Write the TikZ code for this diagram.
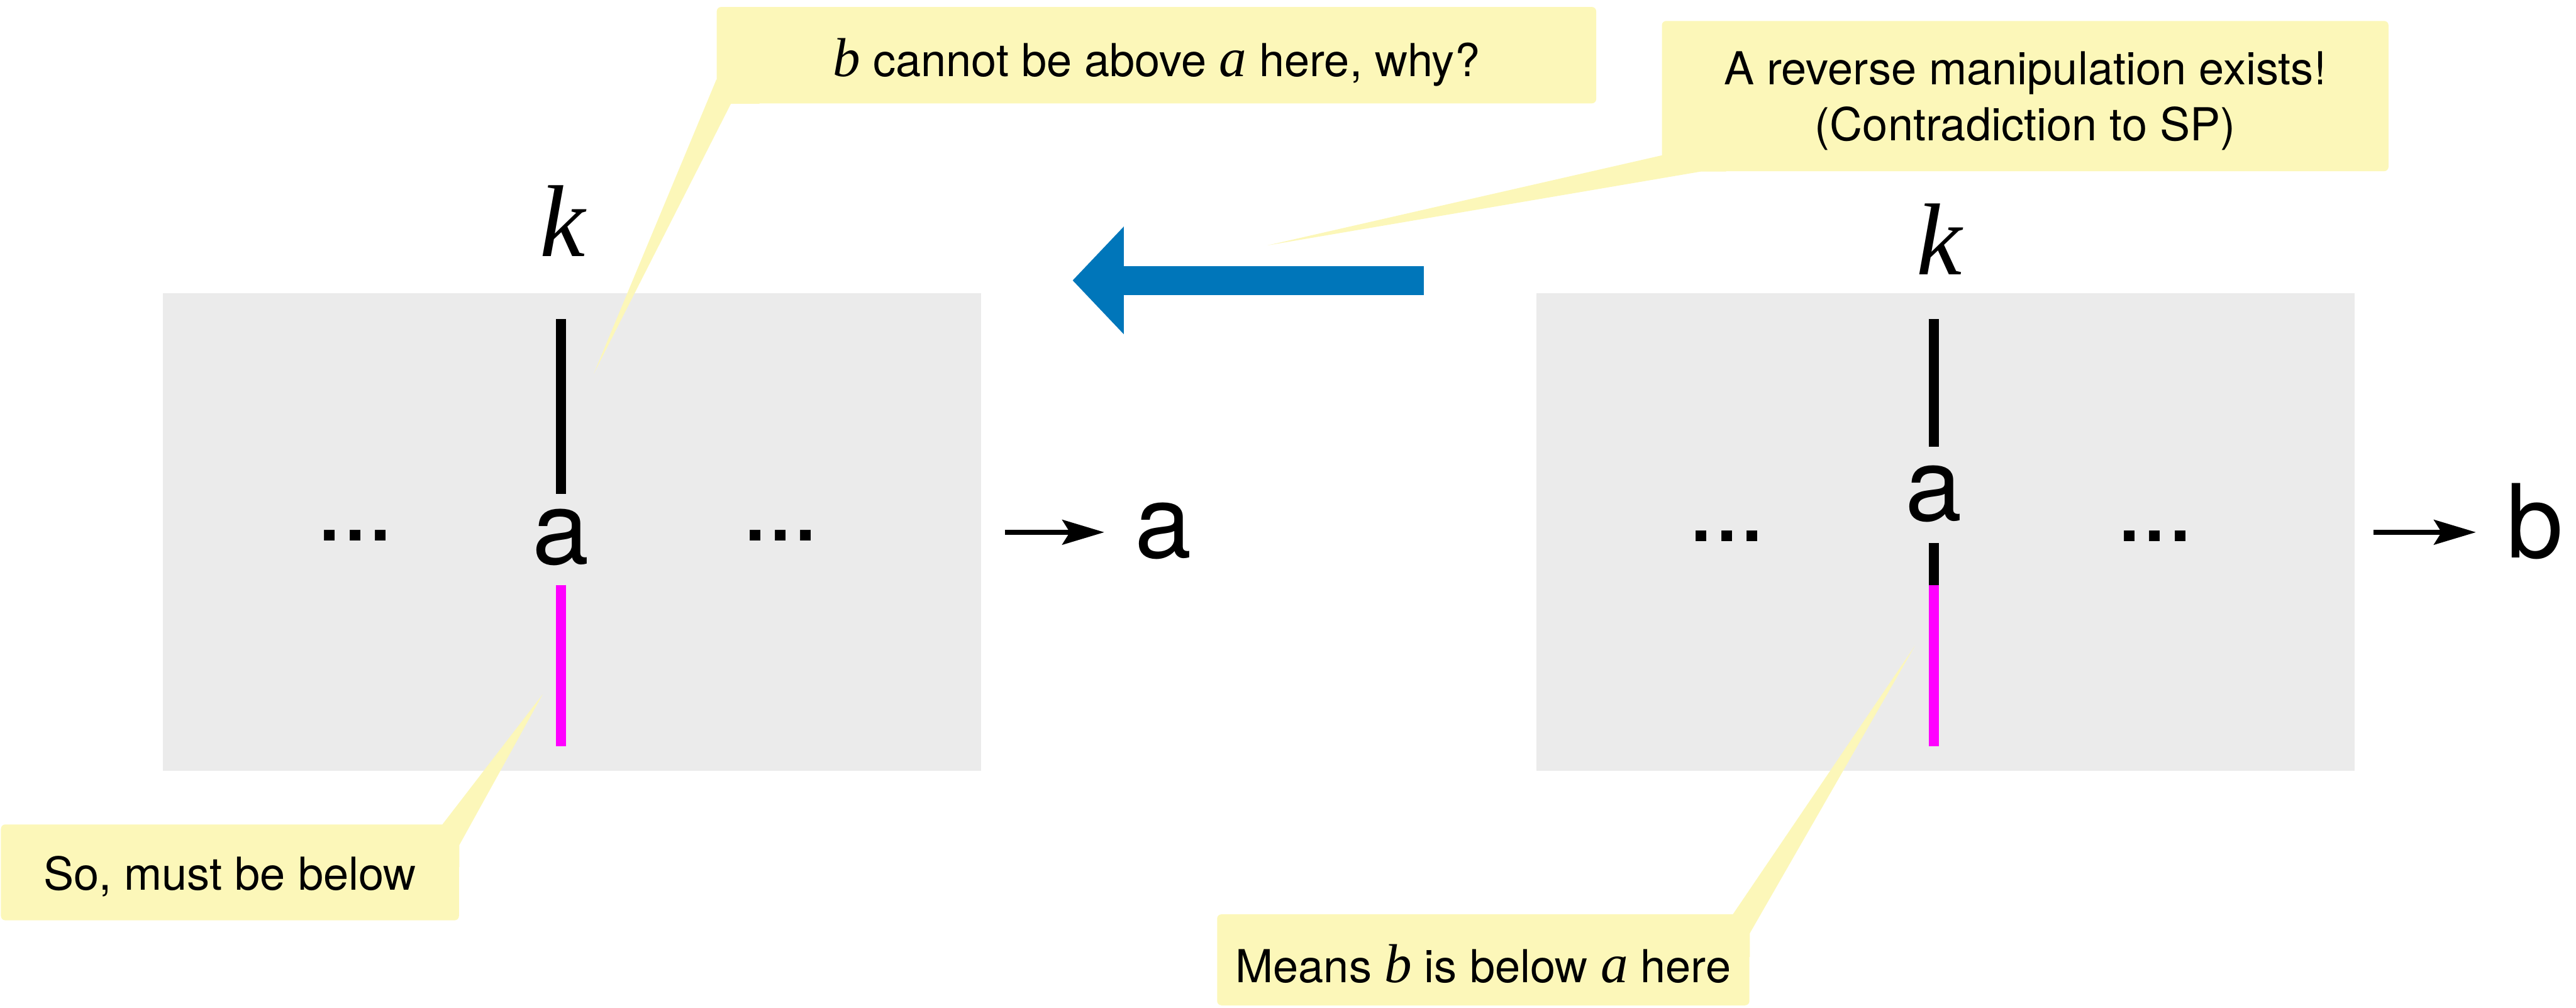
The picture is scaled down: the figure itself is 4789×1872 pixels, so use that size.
\documentclass[tikz,border=0pt]{standalone}
\usepackage{fontspec}
\setmainfont{TeX Gyre Heros}
\newfontfamily\varfont{Liberation Serif}
\usetikzlibrary{arrows.meta,calc}

\definecolor{notebg}{RGB}{252,247,185}
\definecolor{panelbg}{RGB}{235,235,235}
\definecolor{revblue}{RGB}{0,118,186}
\definecolor{lowpink}{RGB}{255,0,255}

\newcommand{\bigtxt}{\fontsize{54}{60}\selectfont}
\newcommand{\notetxt}{\fontsize{24}{29.6}\selectfont}
\newcommand{\mv}[1]{{\varfont\itshape\fontsize{29}{30}\selectfont #1}}
\newcommand{\kv}{{\varfont\itshape\fontsize{54}{60}\selectfont k}}
\newcommand{\more}{.\kern-0.03em.\kern-0.03em.}

\tikzset{
  panel/.style={fill=panelbg, minimum width=15.2cm, minimum height=8.87cm, inner sep=0pt},
  note/.style={fill=notebg, rounded corners=0.08cm, inner sep=0pt, align=center,
    font=\notetxt, text depth=0pt},
  big/.style={font=\bigtxt, inner sep=0pt, anchor=base},
  stem/.style={line width=0.18cm},
  resarrow/.style={line width=0.09cm, -{Stealth[length=0.78cm, width=0.46cm, inset=0.14cm]}},
  revarrow/.style={revblue, line width=0.54cm, -{Triangle[length=0.95cm, width=1.94cm]}},
}

\begin{document}
\begin{tikzpicture}[x=0.01cm, y=-0.01cm]
  \useasboundingbox (0,0) rectangle (4789,1872);

  % the two states
  \node[panel] (lpanel) at (1063,988.5) {};
  \node[panel] (rpanel) at (3617,988.5) {};

  \node[big] (lk) at (1046,477) {\kv};
  \node[big] (la) at (1043,1048) {a};
  \node[big] (lldots) at (660,1005) {\more};
  \node[big] (lrdots) at (1451,1005) {\more};
  \draw[stem] (1043,593) -- (1043,918);
  \draw[stem, lowpink] (1043,1087) -- (1043,1387);

  \node[big] (rk) at (3605,510) {\kv};
  \node[big] (ra) at (3595,968) {a};
  \node[big] (rldots) at (3210,1006) {\more};
  \node[big] (rrdots) at (4006,1006) {\more};
  \draw[stem] (3595,593) -- (3595,830);
  \draw[stem] (3595,1009) -- (3595,1087);
  \draw[stem, lowpink] (3595,1087) -- (3595,1387);

  % outputs
  \node[big] (lres) at (2162,1036) {a};
  \node[big] (rres) at (4712,1036) {b};
  \coordinate (lfrom) at (1868,989);
  \coordinate (rfrom) at (4413,989);
  \draw[resarrow] (lfrom) -- (2053,989);
  \draw[resarrow] (rfrom) -- (4603,989);

  % reverse manipulation
  \coordinate (revfrom) at (2647,521);
  \coordinate (revto) at (1994,521);
  \draw[revarrow] (revfrom) -- (revto);

  % notes
  \node[note, minimum width=16.34cm, minimum height=1.79cm, text height=0.79cm] (whynote)
    at (2150,102.5) {\mv{b} cannot be above \mv{a} here, why?};
  \coordinate (whytip) at (1104,694);
  \fill[notebg] ($(whynote.south west)+(0,-45)$) -- (whytip)
    -- ($(whynote.south west)+(27,0)$) -- ($(whynote.south west)+(80,0)$)
    -- ($(whynote.south west)+(80,-45)$) -- cycle;

  \node[note, minimum width=13.5cm, minimum height=2.79cm] (revnote)
    at (3765,178.5) {A reverse manipulation exists!\\(Contradiction to SP)};
  \coordinate (revtip) at (2356,456);
  \fill[notebg] ($(revnote.south west)+(0,-30)$) -- (revtip)
    -- ($(revnote.south west)+(73,0)$) -- ($(revnote.south west)+(120,0)$)
    -- ($(revnote.south west)+(120,-30)$) -- cycle;

  \node[note, minimum width=8.51cm, minimum height=1.78cm, text height=0.66cm] (belownote)
    at (427.5,1621) {So, must be below};
  \coordinate (belowtip) at (1009,1290);
  \fill[notebg] ($(belownote.north east)+(-31,0)$) -- (belowtip)
    -- ($(belownote.north east)+(0,39)$) -- ($(belownote.north east)+(0,80)$)
    -- ($(belownote.north east)+(-80,80)$) -- cycle;

  \node[note, minimum width=9.89cm, minimum height=1.69cm, text height=0.85cm] (meansnote)
    at (2757.5,1783.5) {Means \mv{b} is below \mv{a} here};
  \coordinate (meanstip) at (3560,1200);
  \fill[notebg] ($(meansnote.north east)+(-31,0)$) -- (meanstip)
    -- ($(meansnote.north east)+(0,36)$) -- ($(meansnote.north east)+(0,80)$)
    -- ($(meansnote.north east)+(-80,80)$) -- cycle;
\end{tikzpicture}
\end{document}
